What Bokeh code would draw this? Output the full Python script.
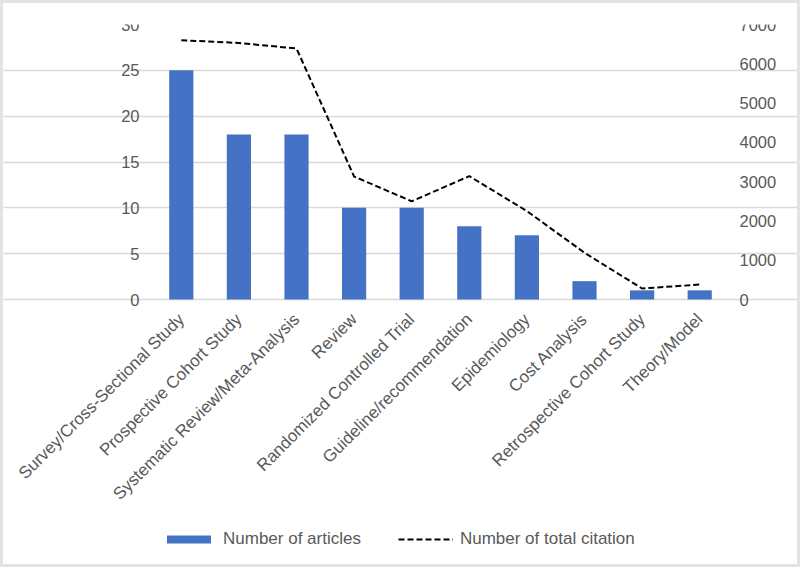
import math
from bokeh.plotting import figure
from bokeh.models import (Range1d, LinearAxis, Legend, LegendItem, Grid,
                          FixedTicker, ColumnDataSource)
from bokeh.embed import file_html
from bokeh.resources import INLINE

categories = ["Survey/Cross-Sectional Study", "Prospective Cohort Study",
              "Systematic Review/Meta-Analysis", "Review",
              "Randomized Controlled Trial", "Guideline/recommendation",
              "Epidemiology", "Cost Analysis", "Retrospective Cohort Study",
              "Theory/Model"]
articles = [25, 18, 18, 10, 10, 8, 7, 2, 1, 1]
citations = [6600, 6530, 6390, 3130, 2500, 3140, 2250, 1190, 280, 380]
left_ticks = [0, 5, 10, 15, 20, 25, 30]
right_ticks = [0, 1000, 2000, 3000, 4000, 5000, 6000, 7000]

FONT = "Liberation Sans"
GRAY = "#595959"
BLUE = "#4472C4"

# category slots 1..N (slot edges at 0.5 and N+0.5)
positions = [i + 1 for i in range(len(categories))]
N = len(categories)

# frame covers the whole canvas; the chart area (slots, 0..30) sits inside it
FRAME_W, FRAME_H = 794, 540
PLOT_W, PLOT_H = 576, 275
PLOT_LEFT = 149                       # px from frame left to first slot edge
unit = PLOT_W / N
x_start = 0.5 - PLOT_LEFT / unit
x_end = N + 0.5 + (FRAME_W - PLOT_LEFT - PLOT_W) / unit
LEFT_MAX = left_ticks[-1]
RIGHT_MAX = right_ticks[-1]
left_min = -LEFT_MAX * (FRAME_H - PLOT_H) / PLOT_H
right_min = -RIGHT_MAX * (FRAME_H - PLOT_H) / PLOT_H

src = ColumnDataSource(dict(pos=positions, cat=categories,
                            art=articles, cit=citations))

p = figure(x_range=Range1d(x_start, x_end),
           y_range=Range1d(left_min, LEFT_MAX),
           frame_width=FRAME_W, frame_height=FRAME_H,
           min_border_left=0, min_border_right=0,
           min_border_top=21, min_border_bottom=0,
           x_axis_location=None, y_axis_location=None,
           output_backend="svg", toolbar_location=None,
           outline_line_color=None, background_fill_color="white")
p.styles = {"border": "3px solid #e3e3e3"}
p.extra_y_ranges = {"cit": Range1d(right_min, RIGHT_MAX)}
p.grid.visible = False

grid = Grid(dimension=1, ticker=FixedTicker(ticks=left_ticks),
            bounds=(0.5, N + 0.5),
            grid_line_color="#d9d9d9", grid_line_width=1.5)
p.add_layout(grid)

bars = p.vbar(x="pos", top="art", bottom=0, width=0.42, source=src,
              fill_color=BLUE, line_color=None)
line = p.line(x="pos", y="cit", source=src, y_range_name="cit",
              line_color="black", line_width=2, line_dash="6 3")


def style(ax, size, standoff):
    ax.axis_line_color = None
    ax.major_tick_line_color = None
    ax.minor_tick_line_color = None
    ax.major_tick_out = 0
    ax.major_tick_in = 0
    ax.major_label_standoff = standoff
    ax.major_label_text_font = FONT
    ax.major_label_text_font_size = size
    ax.major_label_text_color = GRAY


# left axis pinned at the first slot edge
la = LinearAxis(fixed_location=0.5, ticker=FixedTicker(ticks=left_ticks))
style(la, "16.5px", 13)
p.add_layout(la, "left")

# right axis pinned at the last slot edge
ra = LinearAxis(y_range_name="cit", fixed_location=N + 0.5,
                ticker=FixedTicker(ticks=right_ticks))
style(ra, "16.5px", 11)
p.add_layout(ra, "right")

# category axis pinned at zero
xa = LinearAxis(fixed_location=0, ticker=FixedTicker(ticks=positions),
                major_label_overrides={pos: cat for pos, cat in zip(positions, categories)})
style(xa, "17px", 17)
xa.major_label_orientation = math.pi / 4
p.add_layout(xa, "below")

legend = Legend(items=[LegendItem(label="Number of articles", renderers=[bars]),
                       LegendItem(label="Number of total citation", renderers=[line])],
                orientation="horizontal", location=(158, 15),
                glyph_width=55, glyph_height=10,
                label_standoff=7, spacing=37, padding=0, margin=0,
                border_line_color=None, background_fill_alpha=0,
                label_text_font=FONT, label_text_font_size="17px",
                label_text_color=GRAY)
p.add_layout(legend, "center")

open("out.html", "w").write(file_html(p, INLINE))
